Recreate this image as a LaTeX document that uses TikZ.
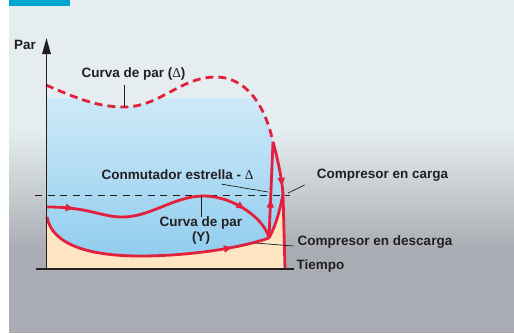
\documentclass[tikz,border=0pt]{standalone}
\usepackage{fontspec}
\setsansfont{Liberation Sans}
\newfontfamily\grk{Liberation Serif}
\usetikzlibrary{arrows.meta,decorations.markings,calc}
\definecolor{paneltop}{HTML}{E6EDF0}
\definecolor{panelbot}{HTML}{A9ADB3}
\definecolor{bluetop}{HTML}{D6EDF9}
\definecolor{bluebot}{HTML}{8CCBEE}
\definecolor{beige}{HTML}{FDE5C2}
\definecolor{curvered}{HTML}{E2203B}
\definecolor{ink}{HTML}{231F20}
\definecolor{tabcol}{HTML}{00A6CD}
\newcommand{\dlt}{{\grk\mdseries Δ}}

\begin{document}
\begin{tikzpicture}[x=1pt,y=-1pt,
  lbl/.style={inner sep=0pt,text=ink,font=\sffamily\bfseries\fontsize{13.5}{15}\selectfont},
  curve/.style={draw=curvered,line width=2.8pt,line join=round},
  leader/.style={draw=ink,line width=0.7pt},
  axis/.style={draw=ink,line width=1.5pt},
  flow/.style={postaction={decorate,decoration={markings,
    mark=at position #1 with {\arrow[curvered]{Triangle[length=8pt,width=7pt]}}}}}]
 \useasboundingbox (0,0) rectangle (514,333);
 \fill[white] (0,0) rectangle (9,333);
 \fill[paneltop] (9,0) rectangle (514,131);
 \shade[top color=paneltop,bottom color=panelbot] (9,130) rectangle (514,251);
 \fill[panelbot] (9,250) rectangle (514,333);
 \fill[tabcol] (9,0) rectangle (70,5.5);
 %
 \coordinate (o) at (46.5,269);
 \coordinate (ytop) at (46.5,38);
 \coordinate (xs) at (36,269);
 \coordinate (xe) at (294,269);
 \coordinate (ds) at (46,85);
 \coordinate (dmin) at (124,107);
 \coordinate (dmax) at (216,77);
 \coordinate (ys) at (47,207);
 \coordinate (ypk) at (203,196);
 \coordinate (ls) at (47,217);
 \coordinate (c) at (269,238);
 \coordinate (a) at (273,142);
 \coordinate (b) at (283,194);
 \coordinate (bend) at (285,269);
 \coordinate (hl) at (35,195);
 \coordinate (hr) at (290,195);
 \coordinate (swpt) at (268,192);
 \coordinate (ccpt) at (288,193);
 \coordinate (cdpt) at (255,243);
 %
 \begin{scope}
  \clip (46,98) rectangle (300,269);
  \shade[top color=bluetop,bottom color=bluebot] (ds) .. controls (80,100) and (100,107) .. (dmin)
    .. controls (160,107) and (180,77) .. (dmax) .. controls (237,77) and (262,92) .. (a)
    .. controls (278,160) and (282,180) .. (b) -- (bend) -- (o) -- cycle;
 \end{scope}
 \fill[beige] (ls) .. controls (52,245) and (90,256) .. (140,256) .. controls (190,256) and (240,248) .. (c)
   .. controls (276,225) and (280,210) .. (b) -- (bend) -- (o) -- (o |- ls) -- cycle;
 %
 \draw[ink,line width=1pt,dash pattern=on 7pt off 5.5pt] (hl) -- (hr);
 %
 \draw[curve,dash pattern=on 8pt off 5pt] (ds) .. controls (80,100) and (100,107) .. (dmin)
   .. controls (160,107) and (180,77) .. (dmax) .. controls (237,77) and (262,92) .. (a);
 \draw[curve,flow=0.11,flow=0.84] (ys) .. controls (90,207) and (100,217) .. (123,217)
   .. controls (150,217) and (175,196) .. (ypk) .. controls (235,196) and (265,220) .. (c);
 \draw[curve,flow=0.84] (ls) .. controls (52,245) and (90,256) .. (140,256)
   .. controls (190,256) and (240,248) .. (c);
 \draw[curve] (c) .. controls (276,225) and (280,210) .. (b);
 \draw[curve,flow=0.4] (c) -- (a);
 \draw[curve,flow=0.35] (a) .. controls (278,160) and (282,180) .. (b) -- (bend);
 %
 \draw[axis,-{Triangle[length=16pt,width=8.5pt]}] (o) -- (ytop);
 \draw[axis] (xs) -- (xe);
 %
 \node[lbl] (par) at (25,45) {Par};
 \node[lbl] (dlbl) at (133.5,74) {Curva de par (\dlt)};
 \node[lbl] (conm) at (177.5,175) {Conmutador estrella - \dlt};
 \node[lbl] (cc) at (382.5,175) {Compresor en carga};
 \node[lbl] (cd) at (375,242) {Compresor en descarga};
 \node[lbl,align=center] (ylbl) at (201,230.5) {Curva de par\\(Y)};
 \node[lbl] (tmp) at (320.5,266) {Tiempo};
 %
 \draw[leader] ($(dmin |- dlbl.south)+(0,5)$) -- (dmin);
 \draw[leader] ($(conm.south east)+(-32,4)$) -- (swpt);
 \draw[leader] ($(cc.west)+(-12,10)$) -- (ccpt);
 \draw[leader] ($(cd.west)+(-4,4)$) -- (cdpt);
 \draw[leader] (ylbl.north) -- (ylbl.north |- ypk);
\end{tikzpicture}
\end{document}
